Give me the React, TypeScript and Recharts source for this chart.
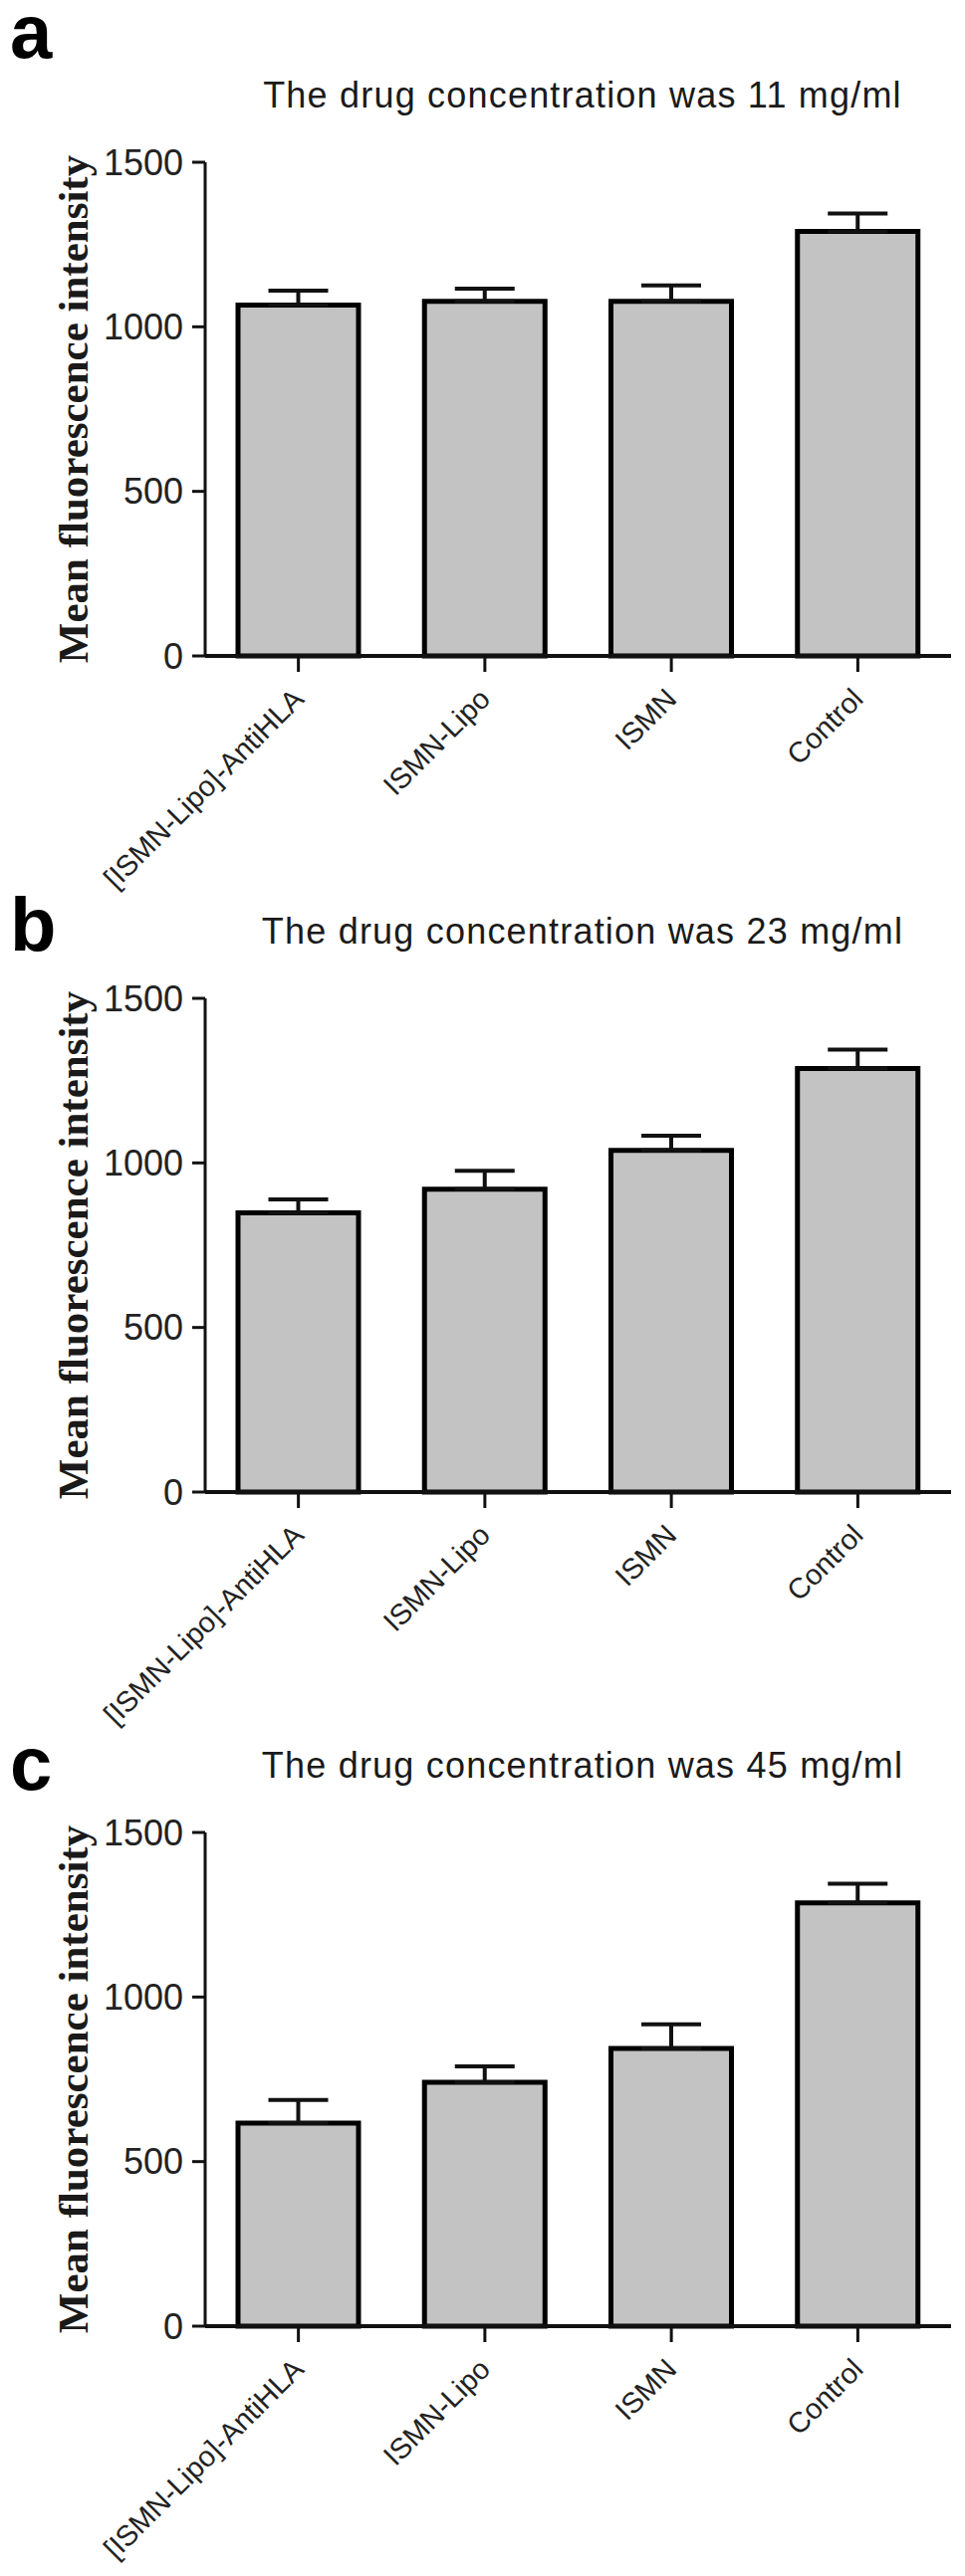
import { BarChart, Bar, XAxis, YAxis, ErrorBar } from "recharts";

// groups on the x axis, same for all three panels
const groups = ["[ISMN-Lipo]-AntiHLA", "ISMN-Lipo", "ISMN", "Control"];
const yTicks = [0, 500, 1000, 1500];

const panelLetters = ["a", "b", "c"];
const concentrations = ["11", "23", "45"];

// mean fluorescence intensity and upper error (SD)
const mean11 = [1066, 1077, 1077, 1290];
const err11 = [44, 39, 49, 54];
const mean23 = [848, 920, 1038, 1287];
const err23 = [41, 56, 45, 57];
const mean45 = [617, 741, 844, 1286];
const err45 = [70, 48, 73, 58];

const W = 969;
// panels overlap a bit: the slanted labels of one panel run into the next
const PANEL_H = 910;
const PANEL_TOPS = [0, 840, 1678];
const PLOT_TOP = 163;
const PLOT_BOTTOM = 659;

const sans = "Arial, 'Liberation Sans', Helvetica, sans-serif";
const serif = "'Times New Roman', 'Liberation Serif', serif";

function GroupTick(props: any) {
  const { x, y, payload } = props;
  const tx = x + 7;
  const ty = y + 29;
  return (
    <text
      x={tx}
      y={ty}
      transform={`rotate(-45, ${tx}, ${ty})`}
      textAnchor="end"
      fontSize={29}
      fontFamily={sans}
      fill="#222"
    >
      {payload.value}
    </text>
  );
}

interface PanelProps {
  top: number;
  letter: string;
  letterY: number;
  conc: string;
  means: number[];
  errs: number[];
}

function Panel({ top, letter, letterY, conc, means, errs }: PanelProps) {
  const data = groups.map((g, i) => ({
    group: g,
    mean: means[i],
    err: [0, errs[i]],
  }));
  const midY = (PLOT_TOP + PLOT_BOTTOM) / 2;

  return (
    <div style={{ position: "absolute", left: 0, top, width: W, height: PANEL_H }}>
      <BarChart
        width={W}
        height={PANEL_H}
        data={data}
        margin={{ top: PLOT_TOP, right: 14, bottom: 0, left: 0 }}
      >
        <XAxis
          dataKey="group"
          interval={0}
          height={PANEL_H - PLOT_BOTTOM}
          tickSize={16}
          tickMargin={0}
          axisLine={{ stroke: "#111", strokeWidth: 4 }}
          tickLine={{ stroke: "#111", strokeWidth: 3 }}
          tick={<GroupTick />}
        />
        <YAxis
          width={206}
          domain={[0, 1500]}
          ticks={yTicks}
          interval={0}
          tickSize={13}
          tickMargin={9}
          axisLine={{ stroke: "#111", strokeWidth: 3 }}
          tickLine={{ stroke: "#111", strokeWidth: 3 }}
          tick={{ fontSize: 36, fill: "#222", fontFamily: sans }}
        />
        <Bar
          dataKey="mean"
          fill="#c3c3c3"
          stroke="#000"
          strokeWidth={5}
          barSize={121}
          isAnimationActive={false}
        >
          <ErrorBar
            dataKey="err"
            direction="y"
            width={30}
            stroke="#111"
            strokeWidth={4}
            isAnimationActive={false}
          />
        </Bar>
      </BarChart>
      <svg
        width={W}
        height={PANEL_H}
        style={{ position: "absolute", left: 0, top: 0, pointerEvents: "none" }}
      >
        <text x={10} y={letterY} fontSize={76} fontWeight="bold" fontFamily={sans} fill="#000">
          {letter}
        </text>
        <text
          x={585}
          y={108}
          textAnchor="middle"
          fontSize={36}
          letterSpacing={1.2}
          fontFamily={sans}
          fill="#1a1a1a"
        >
          The drug concentration was {conc} mg/ml
        </text>
        <text
          x={88}
          y={midY}
          transform={`rotate(-90, 88, ${midY})`}
          textAnchor="middle"
          fontSize={43}
          fontWeight="bold"
          fontFamily={serif}
          fill="#1a1a1a"
        >
          Mean fluorescence intensity
        </text>
      </svg>
    </div>
  );
}

export default function App() {
  const means = [mean11, mean23, mean45];
  const errs = [err11, err23, err45];
  const letterYs = [58, 115, 120];
  return (
    <div style={{ position: "absolute", left: 0, top: 0, width: W, height: 2588, background: "#fff" }}>
      {panelLetters.map((l, i) => (
        <Panel
          key={l}
          top={PANEL_TOPS[i]}
          letter={l}
          letterY={letterYs[i]}
          conc={concentrations[i]}
          means={means[i]}
          errs={errs[i]}
        />
      ))}
    </div>
  );
}
